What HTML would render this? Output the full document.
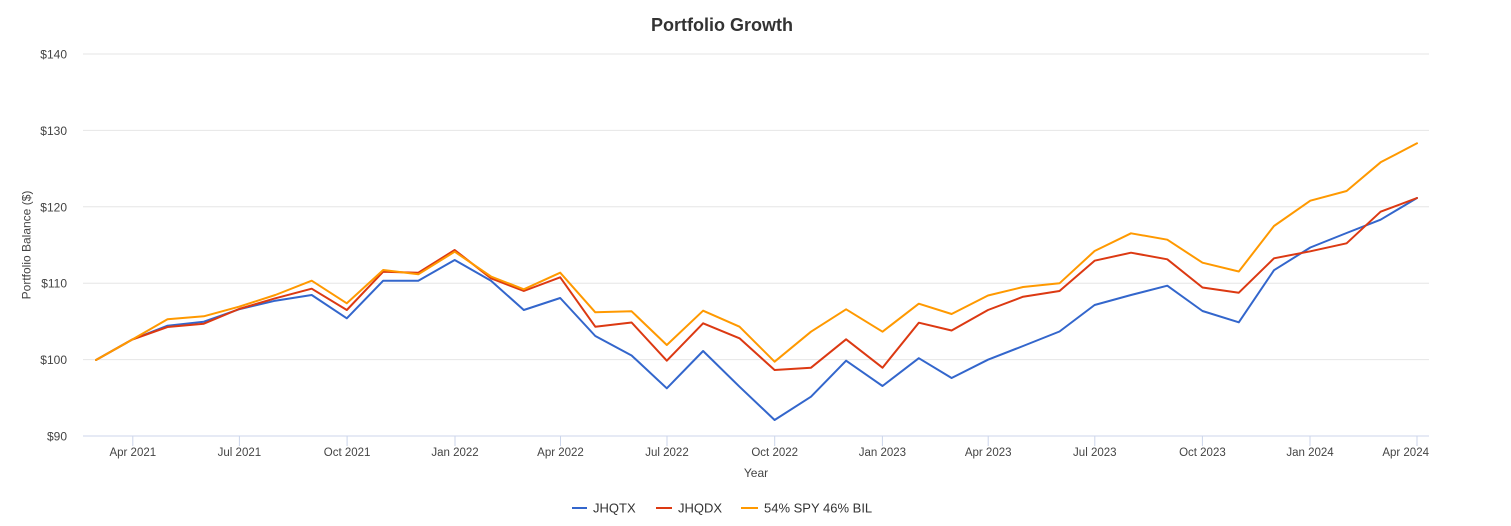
<!DOCTYPE html>
<html>
<head>
<meta charset="utf-8">
<style>
  html, body { margin: 0; padding: 0; background: #ffffff; }
  svg { display: block; font-family: "Liberation Sans", Arial, Helvetica, sans-serif; }
</style>
</head>
<body>
<svg width="1511" height="526" viewBox="0 0 1511 526" xmlns="http://www.w3.org/2000/svg">
  <rect x="0" y="0" width="1511" height="526" fill="#ffffff"/>

  <!-- Title -->
  <text x="722" y="31" text-anchor="middle" font-size="18" font-weight="bold" fill="#333333">Portfolio Growth</text>

  <!-- Grid lines -->
  <g stroke="#e6e6e6" stroke-width="1">
    <line x1="83" y1="54" x2="1429" y2="54"/>
    <line x1="83" y1="130.4" x2="1429" y2="130.4"/>
    <line x1="83" y1="206.8" x2="1429" y2="206.8"/>
    <line x1="83" y1="283.2" x2="1429" y2="283.2"/>
    <line x1="83" y1="359.6" x2="1429" y2="359.6"/>
  </g>

  <!-- X axis line and ticks -->
  <g stroke="#ccd6eb" stroke-width="1">
    <line x1="83" y1="436" x2="1429" y2="436"/>
    <line x1="132.8" y1="436" x2="132.8" y2="446"/>
    <line x1="239.4" y1="436" x2="239.4" y2="446"/>
    <line x1="347.1" y1="436" x2="347.1" y2="446"/>
    <line x1="455" y1="436" x2="455" y2="446"/>
    <line x1="560.5" y1="436" x2="560.5" y2="446"/>
    <line x1="667" y1="436" x2="667" y2="446"/>
    <line x1="774.7" y1="436" x2="774.7" y2="446"/>
    <line x1="882.4" y1="436" x2="882.4" y2="446"/>
    <line x1="988.2" y1="436" x2="988.2" y2="446"/>
    <line x1="1094.8" y1="436" x2="1094.8" y2="446"/>
    <line x1="1202.4" y1="436" x2="1202.4" y2="446"/>
    <line x1="1310" y1="436" x2="1310" y2="446"/>
    <line x1="1417" y1="436" x2="1417" y2="446"/>
  </g>

  <!-- Y axis labels -->
  <g font-size="12" fill="#444444" text-anchor="end">
    <text x="67" y="58.5">$140</text>
    <text x="67" y="134.9">$130</text>
    <text x="67" y="211.3">$120</text>
    <text x="67" y="287.7">$110</text>
    <text x="67" y="364.1">$100</text>
    <text x="67" y="440.5">$90</text>
  </g>

  <!-- Y axis title -->
  <text x="0" y="0" transform="translate(30.5,245) rotate(-90)" text-anchor="middle" font-size="12" fill="#444444">Portfolio Balance ($)</text>

  <!-- X axis labels -->
  <g font-size="11.5" fill="#444444" text-anchor="middle">
    <text x="132.8" y="456">Apr 2021</text>
    <text x="239.4" y="456">Jul 2021</text>
    <text x="347.1" y="456">Oct 2021</text>
    <text x="455" y="456">Jan 2022</text>
    <text x="560.5" y="456">Apr 2022</text>
    <text x="667" y="456">Jul 2022</text>
    <text x="774.7" y="456">Oct 2022</text>
    <text x="882.4" y="456">Jan 2023</text>
    <text x="988.2" y="456">Apr 2023</text>
    <text x="1094.8" y="456">Jul 2023</text>
    <text x="1202.4" y="456">Oct 2023</text>
    <text x="1310" y="456">Jan 2024</text>
    <text x="1429" y="456" text-anchor="end">Apr 2024</text>
  </g>

  <!-- X axis title -->
  <text x="756" y="477" text-anchor="middle" font-size="12" fill="#444444">Year</text>

  <!-- Series: JHQTX (blue) -->
  <polyline fill="none" stroke="#3366cc" stroke-width="2" stroke-linejoin="round" stroke-linecap="round"
    points="96,360 132.3,339.5 167.5,325.7 203.8,321.7 239,309.3 275.3,300.7 311.7,295 346.8,318.3 383.2,280.7 418.3,280.7 454.7,260 491,280.7 523.8,310 560.2,298 595.3,336 631.6,355.5 666.8,388.3 703.1,351 739.5,386.7 774.6,420 811,396.7 846.1,360.7 882.5,386 918.8,358.2 951.6,378 988,359.7 1023.1,346 1059.5,331.5 1094.6,305 1131,295 1167.3,285.7 1202.5,311 1238.8,322.3 1274,270.2 1310.3,247.5 1346.6,233 1380.6,219.7 1417,198"/>

  <!-- Series: JHQDX (red) -->
  <polyline fill="none" stroke="#dc3912" stroke-width="2" stroke-linejoin="round" stroke-linecap="round"
    points="96,360 132.3,339.5 167.5,327 203.8,323.7 239,309 275.3,298.3 311.7,288.7 346.8,310 383.2,271.7 418.3,272.7 454.7,250 491,278.3 523.8,291 560.2,277.3 595.3,326.7 631.6,322.5 666.8,360.7 703.1,323.3 739.5,338.3 774.6,370 811,367.7 846.1,339.3 882.5,367.7 918.8,322.7 951.6,330.5 988,310 1023.1,296.7 1059.5,291 1094.6,260.7 1131,252.7 1167.3,259.3 1202.5,287.5 1238.8,292.7 1274,258.3 1310.3,251.3 1346.6,243.3 1380.6,211.7 1417,198"/>

  <!-- Series: 54% SPY 46% BIL (orange) -->
  <polyline fill="none" stroke="#ff9900" stroke-width="2" stroke-linejoin="round" stroke-linecap="round"
    points="96,360 132.3,339.5 167.5,319.3 203.8,316.3 239,306.7 275.3,295 311.7,280.7 346.8,303.3 383.2,270 418.3,274.3 454.7,251.7 491,276.5 523.8,289.3 560.2,272.7 595.3,312.3 631.6,311.3 666.8,345 703.1,310.7 739.5,326.7 774.6,361.7 811,331.7 846.1,309.3 882.5,331.7 918.8,303.7 951.6,314 988,295.5 1023.1,287 1059.5,283.3 1094.6,251 1131,233.3 1167.3,239.7 1202.5,262.7 1238.8,271.5 1274,226 1310.3,200.7 1346.6,191 1380.6,162.3 1417,143.3"/>

  <!-- Legend -->
  <g font-size="13" fill="#333333">
    <line x1="572" y1="508" x2="587" y2="508" stroke="#3366cc" stroke-width="2"/>
    <text x="593" y="512.5">JHQTX</text>
    <line x1="656" y1="508" x2="672" y2="508" stroke="#dc3912" stroke-width="2"/>
    <text x="678" y="512.5">JHQDX</text>
    <line x1="741" y1="508" x2="758" y2="508" stroke="#ff9900" stroke-width="2"/>
    <text x="764" y="512.5">54% SPY 46% BIL</text>
  </g>
</svg>
</body>
</html>
